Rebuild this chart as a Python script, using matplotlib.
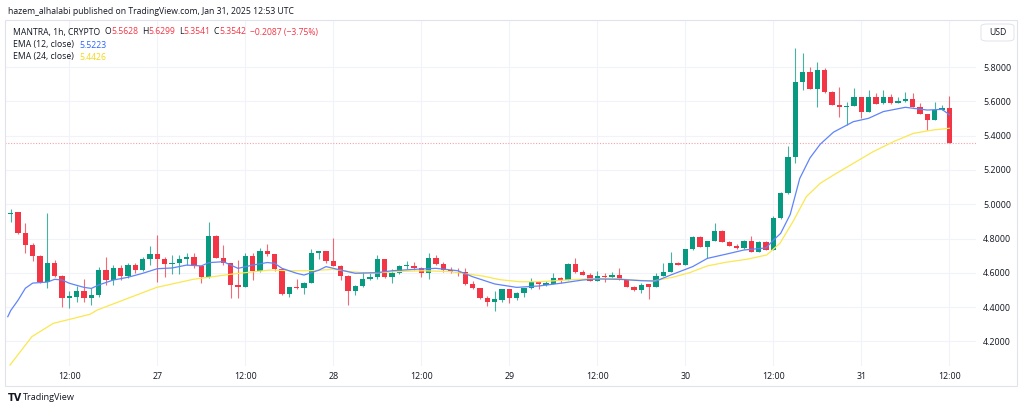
import matplotlib
matplotlib.use("Agg")
import matplotlib.pyplot as plt
from matplotlib.patches import Rectangle, FancyBboxPatch
import numpy as np
import pandas as pd

plt.rcParams['font.family'] = ['Open Sans', 'DejaVu Sans']

# hourly candles, MANTRA 1h, from 2025-01-26 04:00 UTC
start_time = "2025-01-26 04:00"
opens = [4.940, 4.954, 4.834, 4.764, 4.698, 4.546, 4.655, 4.581, 4.455, 4.461,
         4.494, 4.455, 4.469, 4.614, 4.556, 4.628, 4.581, 4.644, 4.614, 4.683,
         4.710, 4.683, 4.653, 4.655, 4.679, 4.690, 4.638, 4.574, 4.815, 4.688,
         4.655, 4.529, 4.519, 4.698, 4.612, 4.729, 4.710, 4.620, 4.476, 4.515,
         4.509, 4.543, 4.717, 4.725, 4.669, 4.642, 4.583, 4.494, 4.525, 4.566,
         4.574, 4.681, 4.574, 4.597, 4.641, 4.642, 4.630, 4.597, 4.684, 4.649,
         4.616, 4.607, 4.603, 4.533, 4.509, 4.451, 4.432, 4.441, 4.503, 4.451,
         4.484, 4.509, 4.548, 4.529, 4.535, 4.568, 4.558, 4.653, 4.603, 4.589,
         4.552, 4.581, 4.574, 4.585, 4.562, 4.519, 4.500, 4.533, 4.519, 4.583,
         4.607, 4.659, 4.646, 4.737, 4.807, 4.752, 4.786, 4.846, 4.781, 4.756,
         4.743, 4.786, 4.723, 4.781, 4.733, 4.918, 5.064, 5.277, 5.714, 5.773,
         5.672, 5.782, 5.656, 5.578, 5.569, 5.573, 5.623, 5.540, 5.627, 5.588,
         5.627, 5.592, 5.602, 5.613, 5.569, 5.526, 5.491, 5.549, 5.5628]
highs = [4.970, 4.956, 4.888, 4.776, 4.702, 4.947, 4.675, 4.585, 4.494, 4.523,
         4.562, 4.509, 4.636, 4.690, 4.646, 4.646, 4.655, 4.655, 4.694, 4.756,
         4.820, 4.694, 4.703, 4.703, 4.717, 4.715, 4.640, 4.898, 4.818, 4.762,
         4.657, 4.675, 4.717, 4.715, 4.747, 4.766, 4.712, 4.622, 4.518, 4.562,
         4.545, 4.737, 4.727, 4.727, 4.801, 4.644, 4.585, 4.527, 4.607, 4.607,
         4.704, 4.683, 4.620, 4.645, 4.669, 4.665, 4.633, 4.717, 4.704, 4.665,
         4.636, 4.630, 4.630, 4.552, 4.511, 4.465, 4.494, 4.505, 4.505, 4.486,
         4.511, 4.568, 4.550, 4.550, 4.601, 4.578, 4.659, 4.684, 4.616, 4.601,
         4.611, 4.597, 4.603, 4.630, 4.564, 4.521, 4.543, 4.535, 4.597, 4.655,
         4.723, 4.665, 4.738, 4.815, 4.815, 4.788, 4.888, 4.848, 4.783, 4.768,
         4.792, 4.815, 4.783, 4.783, 4.931, 5.070, 5.339, 5.909, 5.883, 5.802,
         5.831, 5.792, 5.658, 5.685, 5.598, 5.676, 5.625, 5.666, 5.646, 5.666,
         5.640, 5.627, 5.656, 5.650, 5.590, 5.528, 5.598, 5.578, 5.6299]
lows = [4.898, 4.828, 4.714, 4.671, 4.540, 4.509, 4.575, 4.403, 4.393, 4.432,
        4.432, 4.412, 4.460, 4.529, 4.529, 4.558, 4.568, 4.601, 4.610, 4.644,
        4.548, 4.577, 4.593, 4.593, 4.645, 4.630, 4.543, 4.570, 4.684, 4.645,
        4.451, 4.451, 4.515, 4.558, 4.605, 4.700, 4.612, 4.470, 4.461, 4.505,
        4.476, 4.540, 4.679, 4.660, 4.640, 4.558, 4.412, 4.471, 4.520, 4.558,
        4.566, 4.572, 4.543, 4.595, 4.620, 4.617, 4.578, 4.566, 4.645, 4.603,
        4.600, 4.581, 4.530, 4.505, 4.447, 4.406, 4.379, 4.432, 4.426, 4.441,
        4.461, 4.507, 4.504, 4.525, 4.533, 4.542, 4.556, 4.600, 4.587, 4.550,
        4.550, 4.548, 4.572, 4.560, 4.515, 4.496, 4.484, 4.445, 4.517, 4.581,
        4.605, 4.644, 4.644, 4.735, 4.750, 4.684, 4.784, 4.779, 4.754, 4.741,
        4.741, 4.721, 4.721, 4.731, 4.731, 4.916, 5.062, 5.238, 5.666, 5.670,
        5.569, 5.650, 5.576, 5.510, 5.462, 5.571, 5.501, 5.538, 5.582, 5.586,
        5.586, 5.590, 5.598, 5.567, 5.524, 5.433, 5.489, 5.547, 5.3541]
closes = [4.951, 4.830, 4.764, 4.698, 4.546, 4.655, 4.581, 4.455, 4.463, 4.494,
          4.455, 4.469, 4.614, 4.556, 4.628, 4.581, 4.644, 4.614, 4.683, 4.710,
          4.683, 4.653, 4.657, 4.679, 4.690, 4.638, 4.574, 4.815, 4.688, 4.655,
          4.529, 4.519, 4.698, 4.612, 4.729, 4.708, 4.620, 4.476, 4.515, 4.509,
          4.543, 4.717, 4.725, 4.669, 4.642, 4.583, 4.494, 4.525, 4.566, 4.574,
          4.681, 4.574, 4.597, 4.642, 4.643, 4.630, 4.597, 4.684, 4.649, 4.616,
          4.607, 4.601, 4.533, 4.509, 4.451, 4.432, 4.445, 4.503, 4.451, 4.484,
          4.509, 4.548, 4.537, 4.541, 4.568, 4.558, 4.653, 4.603, 4.589, 4.552,
          4.581, 4.574, 4.585, 4.562, 4.519, 4.500, 4.529, 4.519, 4.583, 4.607,
          4.659, 4.646, 4.737, 4.807, 4.752, 4.786, 4.846, 4.781, 4.756, 4.743,
          4.786, 4.723, 4.781, 4.733, 4.918, 5.064, 5.277, 5.714, 5.773, 5.672,
          5.782, 5.656, 5.578, 5.569, 5.573, 5.623, 5.540, 5.627, 5.584, 5.627,
          5.588, 5.602, 5.613, 5.569, 5.526, 5.491, 5.549, 5.559, 5.3542]

# EMA lines (candle index, value)
ema12_idx = [-0.4, 0, 1, 2, 3, 5, 6, 7, 8, 10, 11, 12, 14, 16, 18, 20, 22, 24, 26, 27,
             29, 30, 31, 33, 35, 36, 37, 39, 40, 42, 43, 45, 47, 50, 52, 55, 58, 61, 63,
             66, 69, 72, 75, 78, 80, 83, 86, 88, 90, 93, 95, 98, 100, 103, 104, 105,
             106.3, 107.6, 109, 110.4, 112.2, 114.9, 117, 119, 122, 125, 127, 128]
ema12_val = [4.344, 4.38, 4.44, 4.51, 4.54, 4.546, 4.562, 4.558, 4.539, 4.515, 4.509,
             4.529, 4.558, 4.574, 4.597, 4.624, 4.628, 4.645, 4.640, 4.659, 4.665,
             4.645, 4.626, 4.645, 4.660, 4.655, 4.626, 4.597, 4.587, 4.615, 4.636,
             4.616, 4.597, 4.601, 4.612, 4.620, 4.626, 4.612, 4.577, 4.535, 4.515,
             4.523, 4.539, 4.558, 4.564, 4.562, 4.554, 4.552, 4.587, 4.636, 4.684,
             4.713, 4.733, 4.745, 4.79, 4.83, 4.94, 5.15, 5.27, 5.35, 5.42, 5.481,
             5.501, 5.540, 5.565, 5.549, 5.553, 5.522]
ema24_idx = [-0.1, 2.9, 5.8, 10.8, 11.8, 19.9, 24.9, 30.3, 34, 35.4, 38.1, 40.8, 44,
             46.3, 49, 52.6, 56.3, 59.9, 64.4, 66.7, 69.4, 72.1, 75.8, 78.5, 82.1,
             84.9, 87.6, 90.3, 92.6, 95, 97.6, 100.4, 103.1, 104.9, 106.7, 108.5,
             110.4, 112.2, 114.9, 117.6, 120.4, 123.1, 125.8, 128]
ema24_val = [4.062, 4.228, 4.305, 4.358, 4.383, 4.515, 4.562, 4.593, 4.610, 4.616,
             4.612, 4.612, 4.620, 4.607, 4.597, 4.607, 4.612, 4.607, 4.581, 4.560,
             4.548, 4.548, 4.558, 4.564, 4.568, 4.558, 4.552, 4.574, 4.601, 4.640,
             4.662, 4.679, 4.704, 4.772, 4.90, 5.044, 5.122, 5.170, 5.238, 5.306,
             5.365, 5.413, 5.433, 5.4426]

price_ticks = [4.2, 4.4, 4.6, 4.8, 5.0, 5.2, 5.4, 5.6, 5.8]

GREEN = '#089981'
RED = '#f23645'
TEXT = '#131722'
GRID = '#f0f3fa'
W, H = 1024, 412


def fx(px):
    return px / W


def fy(py):
    return 1 - py / H


fig = plt.figure(figsize=(10.24, 4.12), dpi=100)
fig.patch.set_facecolor('white')

# plot area in pixels: x 5..976, y 20..366 ; price p -> y = 67 + (5.8-p)*171.5
ax = fig.add_axes([fx(5), fy(366), (976 - 5) / W, (366 - 20) / H])
ax.set_xlim((5 - 10.7) / 7.333, (976 - 10.7) / 7.333)
ax.set_ylim(5.8 - (366 - 67) / 171.5, 5.8 + (67 - 20) / 171.5)
for s in ax.spines.values():
    s.set_visible(False)

times = pd.date_range(start_time, periods=len(closes), freq='h')
idx = np.arange(len(closes))
o = np.array(opens)
c = np.array(closes)
colors = [GREEN if cc >= oo else RED for oo, cc in zip(o, c)]

# candles
ax.vlines(idx, lows, highs, colors=colors, linewidth=0.8, alpha=0.75, zorder=2)
bottom = np.minimum(o, c)
height = np.maximum(np.abs(c - o), 0.004)
ax.bar(idx, height, bottom=bottom, width=0.76, color=colors, linewidth=0, zorder=3)

# EMAs
ax.plot(ema24_idx, ema24_val, color='#fbe74f', linewidth=0.9, zorder=4)
ax.plot(ema12_idx, ema12_val, color='#5f84fb', linewidth=0.9, zorder=4)

# last price line
ax.axhline(closes[-1], color='#f7a0aa', linewidth=0.8, linestyle=(0, (1, 1.5)), zorder=1)

# ticks / grid
tick_pos = [i for i, t in enumerate(times) if t.hour in (0, 12)]
tick_lab = ['12:00' if times[i].hour == 12 else str(times[i].day) for i in tick_pos]
ax.set_xticks(tick_pos)
ax.set_xticklabels(tick_lab)
ax.set_yticks(price_ticks)
ax.set_yticklabels(['%.4f' % p for p in price_ticks])
ax.yaxis.tick_right()
ax.tick_params(axis='both', length=0, labelsize=6.4, colors=TEXT)
ax.tick_params(axis='x', pad=4.5)
ax.tick_params(axis='y', pad=5)
ax.grid(True, color=GRID, linewidth=0.8, zorder=0)
ax.set_axisbelow(True)

# frame and USD box
fig.patches.append(Rectangle((fx(5), fy(386)), (1017 - 5) / W, (386 - 20) / H,
                             transform=fig.transFigure, fill=False,
                             edgecolor='#e0e3eb', linewidth=0.8))
fig.patches.append(FancyBboxPatch((fx(981), fy(41)), 33 / W, 17 / H,
                                  boxstyle='round,pad=0,rounding_size=0.006',
                                  transform=fig.transFigure, facecolor='white',
                                  edgecolor='#e0e3eb', linewidth=0.7))
fig.text(fx(997.5), fy(32.5), 'USD', fontsize=6.2, color=TEXT, ha='center', va='center')

# title line
fig.text(fx(8), fy(12), 'hazem_alhalabi published on TradingView.com, Jan 31, 2025 12:53 UTC',
         fontsize=6.2, color=TEXT, ha='left', va='center')


def chain(parts, x, y, size=6.2):
    prev = fig.text(fx(x), fy(y), parts[0][0], color=parts[0][1], fontsize=size,
                    ha='left', va='center')
    for txt, col, gap in parts[1:]:
        prev = ax.annotate(txt, xy=(1, 0.5), xycoords=prev, xytext=(gap, 0),
                           textcoords='offset points', color=col, fontsize=size,
                           ha='left', va='center')


chain([('MANTRA, 1h, CRYPTO', TEXT, 0), ('O', TEXT, 3.5), ('5.5628', RED, 0),
       ('H', TEXT, 2.5), ('5.6299', RED, 0), ('L', TEXT, 2.5), ('5.3541', RED, 0),
       ('C', TEXT, 2.5), ('5.3542', RED, 0), ('\u22120.2087 (\u22123.75%)', RED, 2.5)], 13, 32)
chain([('EMA (12, close)', TEXT, 0), ('5.5223', '#2962ff', 4)], 13, 45)
chain([('EMA (24, close)', TEXT, 0), ('5.4426', '#f5d716', 4)], 13, 57)

# footer logo
fig.text(fx(8), fy(398), 'TV', fontsize=7, fontweight='bold', color=TEXT,
         ha='left', va='center', family=['DejaVu Sans'])
fig.text(fx(23), fy(398), 'TradingView', fontsize=6.6, color=TEXT, ha='left', va='center')

fig.savefig('out.png', dpi=100)
